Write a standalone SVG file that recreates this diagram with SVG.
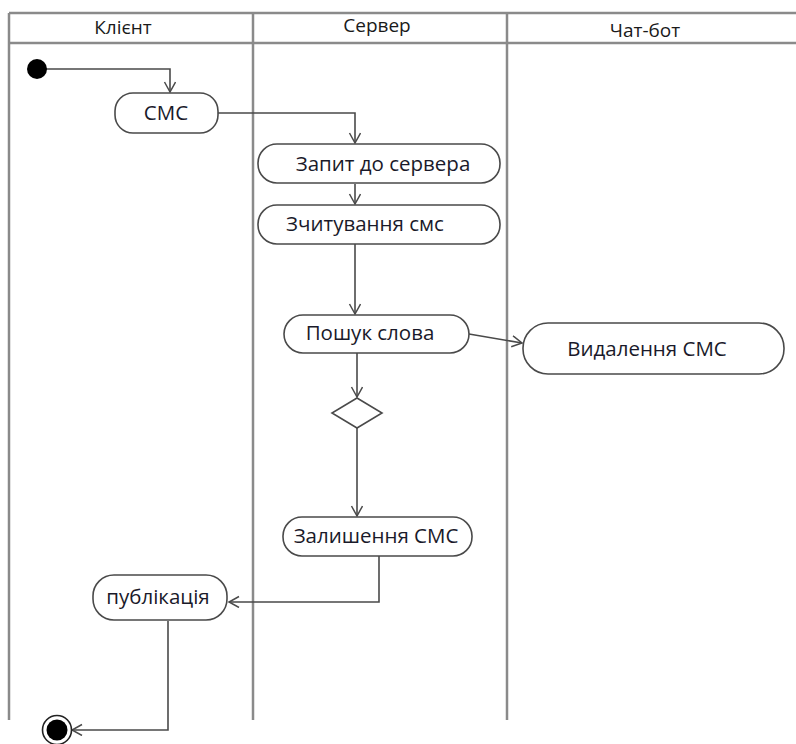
<svg xmlns="http://www.w3.org/2000/svg" width="796" height="744" viewBox="0 0 796 744">
<style>
.frame{stroke:#8a8a8a;stroke-width:2.5;fill:none}
.node{fill:#fff;stroke:#4a4a4a;stroke-width:1.6}
.t{font-family:"Open Sans","Noto Sans",sans-serif;font-size:20.5px;fill:#1a1a2a;text-anchor:middle}
.h{font-family:"Open Sans","Noto Sans",sans-serif;font-size:19px;fill:#1a1a1a;text-anchor:middle}
.c{fill:none;stroke:#4a4a4a;stroke-width:1.6;marker-end:url(#arr)}
</style>
<defs>
<marker id="arr" markerUnits="userSpaceOnUse" markerWidth="14" markerHeight="14" refX="11" refY="6" orient="auto">
<path d="M1,0.5 L11,6 L1,11.5" fill="none" stroke="#4a4a4a" stroke-width="1.5"/>
</marker>
</defs>
<rect width="796" height="744" fill="#fff"/>
<g id="swimlanes">
<path class="frame" d="M9,13 H796 M9,43 H796 M9,13 V720 M253,13 V720 M507,13 V720"/>
<text class="h" x="123" y="34">Клієнт</text>
<text class="h" x="377" y="32">Сервер</text>
<text class="h" x="645" y="37">Чат-бот</text>
</g>
<g id="connectors">
<path class="c" d="M46,69 H170 V92"/>
<path class="c" d="M218,113 H355 V143"/>
<path class="c" d="M355,184 V204"/>
<path class="c" d="M355,244 V314"/>
<path class="c" d="M469,334 L522,343"/>
<path class="c" d="M357,353 V397"/>
<path class="c" d="M357,428 V516"/>
<path class="c" d="M379,556 V602 H229"/>
<path class="c" d="M168,621 V730 H72"/>
</g>
<g id="start"><circle cx="37" cy="69" r="10" fill="#000"/></g>
<g id="n-sms"><rect class="node" x="115" y="93" width="103" height="40" rx="18"/><text class="t" x="166" y="120">СМС</text></g>
<g id="n-zapyt"><rect class="node" x="258" y="144" width="242" height="39" rx="19"/><text class="t" x="383" y="171">Запит до сервера</text></g>
<g id="n-zchytuvannia"><rect class="node" x="258" y="205" width="242" height="39" rx="19"/><text class="t" x="365" y="231">Зчитування смс</text></g>
<g id="n-poshuk"><rect class="node" x="284" y="315" width="185" height="38" rx="19"/><text class="t" x="370" y="340">Пошук слова</text></g>
<g id="n-vydalennia"><rect class="node" x="523" y="323" width="261" height="51" rx="25"/><text class="t" x="647" y="356">Видалення СМС</text></g>
<g id="decision"><polygon class="node" points="357,398 382,413 357,428 332,413"/></g>
<g id="n-zalyshennia"><rect class="node" x="283" y="517" width="189" height="39" rx="19"/><text class="t" x="376" y="543">Залишення СМС</text></g>
<g id="n-publikatsiia"><rect class="node" x="93" y="575" width="134" height="45" rx="21"/><text class="t" x="158" y="604">публікація</text></g>
<g id="end"><circle cx="57" cy="730" r="14.5" fill="#fff" stroke="#222" stroke-width="1.6"/><circle cx="57" cy="730" r="10.5" fill="#000"/></g>
</svg>
